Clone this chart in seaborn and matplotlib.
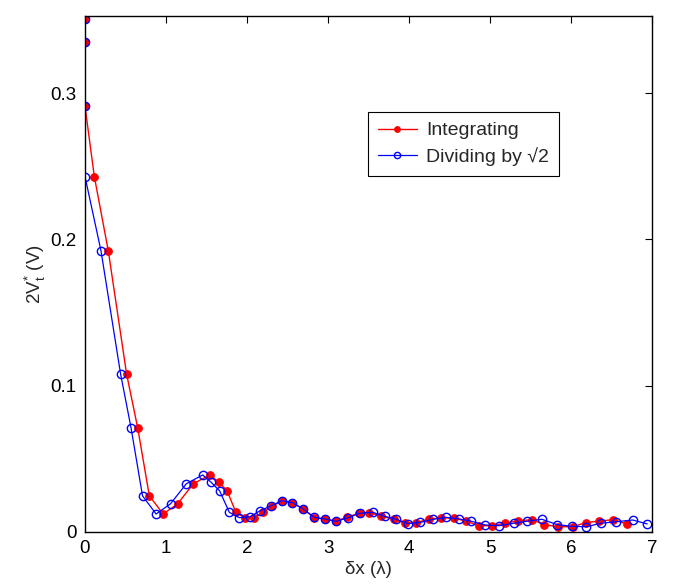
import matplotlib
matplotlib.use("Agg")
import matplotlib.pyplot as plt
import seaborn as sns
import pandas as pd

# Data
red_x = [0.0, 0.0, 0.0, 0.115, 0.288, 0.514, 0.650, 0.794, 0.965, 1.144, 1.337, 1.540, 1.648,
         1.755, 1.862, 1.975, 2.088, 2.20, 2.31, 2.435, 2.56, 2.69, 2.83, 2.96, 3.095, 3.23,
         3.38, 3.51, 3.65, 3.81, 3.95, 4.09, 4.24, 4.40, 4.56, 4.70, 4.86, 5.02, 5.185, 5.35,
         5.52, 5.67, 5.84, 6.02, 6.18, 6.35, 6.52, 6.69]
red_y = [0.351, 0.335, 0.291, 0.243, 0.192, 0.1078, 0.0713, 0.0247, 0.0123, 0.0193, 0.0330,
         0.0390, 0.0343, 0.0281, 0.0134, 0.0097, 0.0097, 0.0138, 0.0178, 0.0213, 0.0200,
         0.0158, 0.0099, 0.0089, 0.0073, 0.0100, 0.0128, 0.0132, 0.0110, 0.0087, 0.0060,
         0.0064, 0.0087, 0.0098, 0.0094, 0.0075, 0.0043, 0.0043, 0.0060, 0.0077, 0.0084,
         0.0050, 0.0036, 0.0036, 0.0064, 0.0075, 0.0084, 0.0055]

blue_x = [0.0, 0.0, 0.0, 0.0, 0.198, 0.440, 0.568, 0.710, 0.878, 1.056, 1.251, 1.453, 1.553,
          1.662, 1.782, 1.905, 2.035, 2.16, 2.30, 2.43, 2.56, 2.69, 2.83, 2.96, 3.10, 3.25,
          3.39, 3.55, 3.70, 3.84, 3.99, 4.14, 4.30, 4.46, 4.62, 4.77, 4.94, 5.11, 5.29, 5.45,
          5.64, 5.83, 6.01, 6.19, 6.37, 6.55, 6.76, 6.94]
blue_y = [0.351, 0.335, 0.291, 0.243, 0.192, 0.1078, 0.0713, 0.0247, 0.0123, 0.0193, 0.0330,
          0.0390, 0.0342, 0.0281, 0.0134, 0.0098, 0.0104, 0.0145, 0.0180, 0.0214, 0.0200,
          0.0158, 0.0100, 0.0089, 0.0073, 0.0098, 0.0128, 0.0135, 0.0107, 0.0087, 0.0057,
          0.0066, 0.0087, 0.0100, 0.0089, 0.0073, 0.0048, 0.0043, 0.0060, 0.0073, 0.0087,
          0.0050, 0.0039, 0.0036, 0.0060, 0.0070, 0.0082, 0.0055]

x_ticks = [0, 1, 2, 3, 4, 5, 6, 7]
y_ticks = [0, 0.1, 0.2, 0.3]
y_tick_labels = ["0", "0.1", "0.2", "0.3"]
labels = ["Integrating", "Dividing by \u221a2"]

sns.set_style("white")
plt.rcParams["font.family"] = ["Liberation Sans", "DejaVu Sans"]
plt.rcParams["mathtext.fontset"] = "custom"
plt.rcParams["mathtext.rm"] = "Liberation Sans"
plt.rcParams["mathtext.it"] = "Liberation Sans"

fig = plt.figure(figsize=(6.8, 5.85), dpi=100)
ax = fig.add_axes([0.125, 0.0906, 0.834, 0.882])

df_r = pd.DataFrame({"x": red_x, "y": red_y})
df_b = pd.DataFrame({"x": blue_x, "y": blue_y})

sns.lineplot(data=df_r, x="x", y="y", sort=False, estimator=None, ax=ax,
             color="#ff0000", lw=1.0, marker="o", markersize=5.5,
             markerfacecolor="#ff0000", markeredgecolor="#ff0000", label=labels[0])
sns.lineplot(data=df_b, x="x", y="y", sort=False, estimator=None, ax=ax,
             color="#0000ff", lw=0.9, marker="o", markersize=6,
             markerfacecolor="none", markeredgecolor="#0000ff", markeredgewidth=1.0,
             label=labels[1])

ax.set_xlim(0, 7)
ax.set_ylim(0, 0.3527)
ax.set_xticks(x_ticks)
ax.set_yticks(y_ticks)
ax.set_yticklabels(y_tick_labels)
ax.tick_params(direction="in", top=True, right=True, length=5, width=0.8,
               labelsize=13.5, colors="black", pad=6)
for s in ax.spines.values():
    s.set_color("black")
    s.set_linewidth(1.0)
ax.set_xlabel("\u03b4x (\u03bb)", fontsize=13.5, labelpad=3)
ax.set_ylabel(r"2V$_{\mathrm{t}}^{*}$ (V)", fontsize=13.5, labelpad=2)

leg = ax.legend(loc="upper left", bbox_to_anchor=(0.499, 0.814), fontsize=14,
                frameon=True, fancybox=False, framealpha=1, edgecolor="black",
                handlelength=2.0, markerscale=0.75, borderpad=0.5, labelspacing=0.4,
                handletextpad=0.5, borderaxespad=0)
leg.get_frame().set_linewidth(0.8)

fig.savefig("out.png", dpi=100)
